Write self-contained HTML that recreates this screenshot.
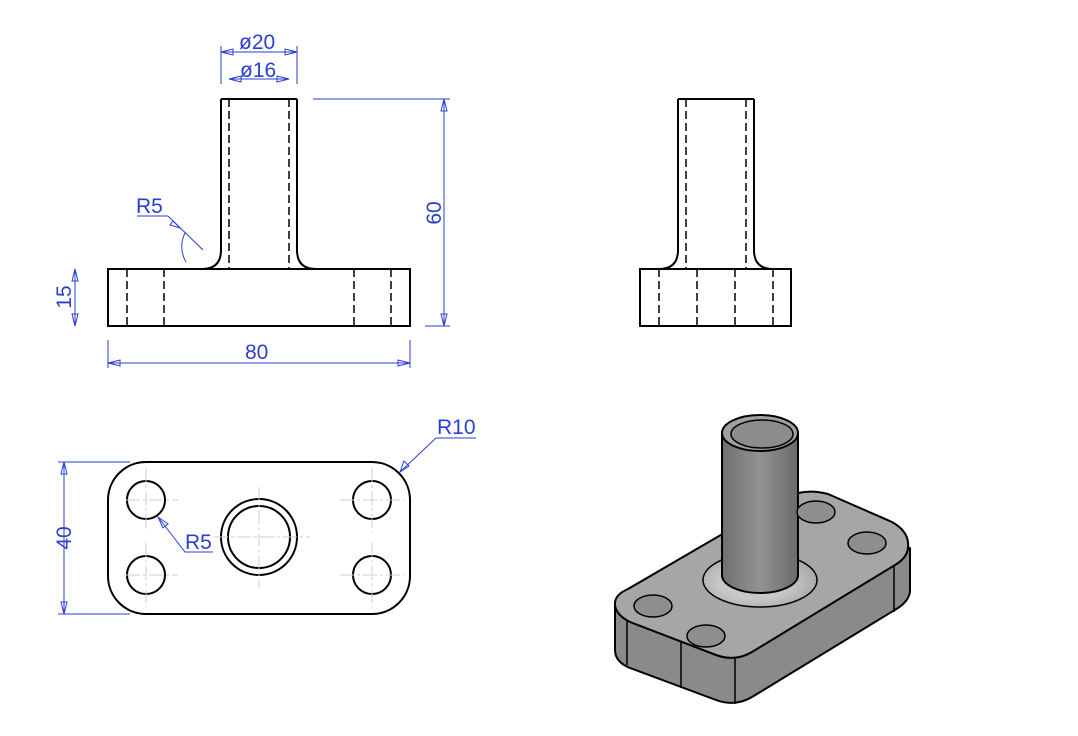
<!DOCTYPE html>
<html><head><meta charset="utf-8"><style>
html,body{margin:0;padding:0;background:#fff}
svg{display:block}
text{font-family:"Liberation Sans",sans-serif;fill:#2a3fd0;font-size:21px}
</style></head><body>
<svg width="1078" height="736" viewBox="0 0 1078 736" xmlns="http://www.w3.org/2000/svg">
<defs>
<linearGradient id="tube" x1="0" x2="1"><stop offset="0" stop-color="#707070"/><stop offset="0.5" stop-color="#929292"/><stop offset="1" stop-color="#6a6a6a"/></linearGradient>
<radialGradient id="fil" cx="0.45" cy="0.55" r="0.6"><stop offset="0.5" stop-color="#c8c8c8"/><stop offset="1" stop-color="#a4a4a4"/></radialGradient>
</defs>
<g stroke="#000" stroke-width="2" fill="none">
<rect x="108" y="269" width="302" height="57"/>
<path d="M221,99 H297 M221,99 V250 Q221,269 202,269 M297,99 V250 Q297,269 316,269"/>
<g stroke-dasharray="8,4" stroke-width="1.5">
<path d="M229,99 V269 M289,99 V269 M127,269 V326 M164,269 V326 M354,269 V326 M391,269 V326"/>
</g>
<rect x="640" y="269" width="151" height="57"/>
<path d="M678,99 H754 M678,99 V250 Q678,269 659,269 M754,99 V250 Q754,269 773,269"/>
<g stroke-dasharray="8,4" stroke-width="1.5">
<path d="M686,99 V269 M746,99 V269 M659,269 V326 M697,269 V326 M735,269 V326 M773,269 V326"/>
</g>
<rect x="108" y="462" width="302" height="152" rx="38"/>
<circle cx="146" cy="500" r="19"/><circle cx="146" cy="575" r="19"/>
<circle cx="372" cy="500" r="19"/><circle cx="372" cy="575" r="19"/>
<circle cx="259" cy="537" r="38"/><circle cx="259" cy="537" r="31"/>
</g>
<g stroke="#ccc" stroke-width="1" stroke-dasharray="14,3,3,3">
<path d="M126,500 H178 M146,468 V532 M126,575 H178 M146,543 V607 M340,500 H404 M372,468 V532 M340,575 H404 M372,543 V607 M214,537 H310 M259,487 V588"/>
</g>
<g stroke="#2a3fd0" stroke-width="1" fill="none">
<path d="M221,46 V84 M297,46 V84 M221,52 H297 M229,79 H289"/>
<path d="M313,99 H450 M425,326 H450 M444,99 V326"/>
<path d="M75,269 V326 M108,340 V368 M410,340 V368 M108,363 H410"/>
<path d="M168,216 L203,250 M137,216 H168"/>
<path d="M185,233 A30,30 0 0 0 186,262"/>
<path d="M400,472 L436,438 H476 M158,517 L185,552 H213"/>
<path d="M64,462 V614 M58,462 H130 M58,614 H130"/>
<path d="M221,52 l12,-3 v6 z M297,52 l-12,-3 v6 z M229,79 l12,-3 v6 z M289,79 l-12,-3 v6 z M444,99 l-3,12 h6 z M444,326 l-3,-12 h6 z M75,269 l-3,12 h6 z M75,326 l-3,-12 h6 z M108,363 l12,-3 v6 z M410,363 l-12,-3 v6 z M64,462 l-3,12 h6 z M64,614 l-3,-12 h6 z M180,228 l-7,-7 l-3,4 z"/>
<path d="M400,472 l4,-11 l5,5 z M158,517 l10,7 l-5,4 z"/>
</g>
<text x="239" y="49">ø20</text>
<text x="240" y="77">ø16</text>
<text x="136" y="213">R5</text>
<text x="245" y="359">80</text>
<text x="437" y="434">R10</text>
<text x="185" y="549">R5</text>
<text transform="translate(441,213) rotate(-90)" text-anchor="middle">60</text>
<text transform="translate(71,297) rotate(-90)" text-anchor="middle">15</text>
<text transform="translate(71,538) rotate(-90)" text-anchor="middle">40</text>
<g stroke="#000" stroke-width="2" stroke-linejoin="round">
<path d="M615,605 L615,650 Q615,662 630,668 L716,700 Q735,707 752,697 L898,608 Q910,600 910,590 L910,548 Z" fill="#8a8a8a"/>
<path d="M615,605 Q614,595 628,589 L786,497 Q806,488 828,494 L892,522 Q910,532 908,548 Q907,558 895,565 L752,652 Q735,662 716,655 L630,622 Q616,615 615,605 Z" fill="#a6a6a6"/>
<path d="M627,621 V665 M681,642 V688 M735,657 V704 M894,566 V612" stroke-width="1.5" fill="none"/>
<ellipse cx="760" cy="580" rx="57" ry="27" fill="url(#fil)" stroke-width="1.5"/>
<path d="M722,433 V575 A38,18 0 0 0 798,575 V433 Z" fill="url(#tube)"/>
<ellipse cx="760" cy="433" rx="38" ry="18" fill="#a0a0a0"/>
<ellipse cx="762" cy="434" rx="31" ry="14" fill="#8c8c8c" stroke-width="1.5"/>
<g fill="#8e8e8e" stroke-width="1.5">
<ellipse cx="653" cy="606" rx="19" ry="11"/>
<ellipse cx="706" cy="636" rx="19" ry="11"/>
<ellipse cx="816" cy="512" rx="19" ry="11"/>
<ellipse cx="867" cy="543" rx="19" ry="11"/>
</g>
</g>
</svg>
</body></html>
